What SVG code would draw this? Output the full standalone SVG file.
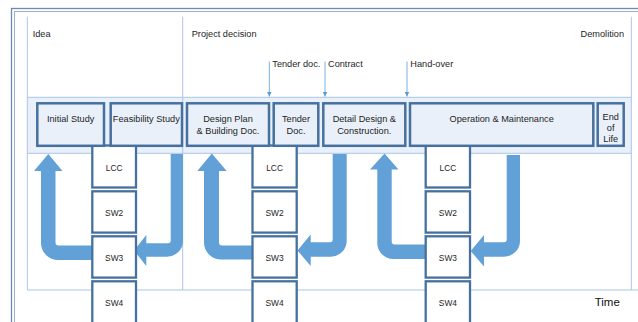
<svg xmlns="http://www.w3.org/2000/svg" width="638" height="322" viewBox="0 0 638 322">
<defs>
<style>
.t{font-family:"Liberation Sans",Arial,sans-serif;font-size:9.2px;fill:#1e1e1e}
.c{text-anchor:middle}
.s{font-family:"Liberation Sans",Arial,sans-serif;font-size:8.4px;fill:#1e1e1e;text-anchor:middle}
.ph{fill:#e9f0f9;stroke:#46719e;stroke-width:2.5}
.sw{fill:#fff;stroke:#46719e;stroke-width:2.3}
.grid{stroke:#a9c6e6;stroke-width:1;fill:none}
.blk{fill:#62a0d8}
.ev{stroke:#7fb0e0;stroke-width:1;fill:none}
</style>
<marker id="ah" viewBox="0 0 6 6" refX="6" refY="3" markerWidth="5" markerHeight="5" orient="auto" markerUnits="userSpaceOnUse">
<path d="M0,0 L6,3 L0,6 Z" fill="#5b9bd5"/>
</marker>
</defs>
<rect width="638" height="322" fill="#fff"/>
<!-- outer frame -->
<rect x="11.5" y="8.5" width="700" height="400" fill="none" stroke="#6a8cb2" stroke-width="1.3"/>
<rect x="14.5" y="11.5" width="700" height="400" fill="none" stroke="#9ab2ce" stroke-width="1"/>
<!-- band and grid -->
<rect x="27.3" y="97.3" width="604" height="56" fill="#e9f0f9"/>
<g class="grid">
<line x1="27.3" y1="16.7" x2="27.3" y2="290"/>
<line x1="182.7" y1="16.7" x2="182.7" y2="290"/>
<line x1="631.3" y1="16.7" x2="631.3" y2="290"/>
<line x1="27.3" y1="97.3" x2="631.3" y2="97.3"/>
<line x1="27.3" y1="153.3" x2="631.3" y2="153.3"/>
<line x1="27.3" y1="290" x2="638" y2="290"/>
</g>
<!-- milestone labels -->
<g id="milestones">
<text class="t" x="32.7" y="36.5">Idea</text>
<text class="t" x="191.7" y="36.5">Project decision</text>
<text class="t" x="624" y="36.5" text-anchor="end">Demolition</text>
<text class="t" x="272.3" y="67.3">Tender doc.</text>
<text class="t" x="328" y="67.3">Contract</text>
<text class="t" x="410.3" y="67.3">Hand-over</text>
</g>
<!-- connectors -->
<g id="connectors">
<line class="ev" x1="269.3" y1="61.5" x2="269.3" y2="96.5" marker-end="url(#ah)"/>
<line class="ev" x1="325" y1="61.5" x2="325" y2="96.5" marker-end="url(#ah)"/>
<line class="ev" x1="407" y1="61.5" x2="407" y2="96.5" marker-end="url(#ah)"/>
<path class="blk" d="M93 245.5 L58.5 245.5 Q55.5 245.5 55.5 242.5 L55.5 171 L62.5 171 L48.3 154 L34 171 L41 171 L41 243 A17 17 0 0 0 58 260 L93 260 Z"/>
<path class="blk" d="M170.7 154 L183 154 L183 240.7 A16 16 0 0 1 167 256.7 L146.3 256.7 L146.3 266 L134 250.5 L146.3 235 L146.3 243.3 L168 243.3 Q170.7 243.3 170.7 240.6 Z"/>
<path class="blk" d="M253 245.5 L222 245.5 Q219 245.5 219 242.5 L219 171 L226.7 171 L211.8 153.5 L197.3 171 L204 171 L204 242.5 A17 17 0 0 0 221 259.5 L253 259.5 Z"/>
<path class="blk" d="M332.7 154 L346.7 154 L346.7 240.7 A16 16 0 0 1 330.7 256.7 L310.7 256.7 L310.7 266 L297.5 250.5 L310.7 234.5 L310.7 242.3 L330 242.3 Q332.7 242.3 332.7 239.6 Z"/>
<path class="blk" d="M426 244.5 L394.7 244.5 Q391.7 244.5 391.7 241.5 L391.7 169.5 L398.5 169.5 L384.5 153.5 L370 169.5 L377.3 169.5 L377.3 243 A16 16 0 0 0 393.3 259 L426 259 Z"/>
<path class="blk" d="M506.7 155 L520 155 L520 240.7 A16 16 0 0 1 504 256.7 L484 256.7 L484 266.5 L470.7 251 L484 235 L484 242.3 L504 242.3 Q506.7 242.3 506.7 239.6 Z"/>
</g>
<!-- SW columns -->
<g id="col1">
<rect class="sw" x="92.3" y="145.5" width="43.7" height="42"/>
<text class="s" x="114.2" y="170.7">LCC</text>
<rect class="sw" x="92.3" y="191.3" width="43.7" height="41.3"/>
<text class="s" x="114.2" y="215.7">SW2</text>
<rect class="sw" x="92.3" y="236.3" width="43.7" height="41.3"/>
<text class="s" x="114.2" y="260.7">SW3</text>
<rect class="sw" x="92.3" y="281.3" width="43.7" height="50"/>
<text class="s" x="114.2" y="305.7">SW4</text>
</g>
<g id="col2">
<rect class="sw" x="252.5" y="145.5" width="44.2" height="42"/>
<text class="s" x="274.6" y="170.7">LCC</text>
<rect class="sw" x="252.5" y="191.3" width="44.2" height="41.3"/>
<text class="s" x="274.6" y="215.7">SW2</text>
<rect class="sw" x="252.5" y="236.3" width="44.2" height="41.3"/>
<text class="s" x="274.6" y="260.7">SW3</text>
<rect class="sw" x="252.5" y="281.3" width="44.2" height="50"/>
<text class="s" x="274.6" y="305.7">SW4</text>
</g>
<g id="col3">
<rect class="sw" x="425.7" y="145.5" width="44.3" height="42"/>
<text class="s" x="447.9" y="170.7">LCC</text>
<rect class="sw" x="425.7" y="191.3" width="44.3" height="41.3"/>
<text class="s" x="447.9" y="215.7">SW2</text>
<rect class="sw" x="425.7" y="236.3" width="44.3" height="41.3"/>
<text class="s" x="447.9" y="260.7">SW3</text>
<rect class="sw" x="425.7" y="281.3" width="44.3" height="50"/>
<text class="s" x="447.9" y="305.7">SW4</text>
</g>
<!-- phase boxes -->
<g id="initial-study">
<rect class="ph" x="37.3" y="103.3" width="66.7" height="42.5"/>
<text class="t c" x="70.7" y="122">Initial Study</text>
</g>
<g id="feasibility-study">
<rect class="ph" x="110.7" y="103.3" width="71.3" height="42.5"/>
<text class="t c" x="146.3" y="122">Feasibility Study</text>
</g>
<g id="design-plan">
<rect class="ph" x="187" y="103.3" width="82" height="42.5"/>
<text class="t c" x="228" y="122">Design Plan</text>
<text class="t c" x="228" y="133.8">&amp; Building Doc.</text>
</g>
<g id="tender-doc">
<rect class="ph" x="273.7" y="103.3" width="44.6" height="42.5"/>
<text class="t c" x="296" y="122">Tender</text>
<text class="t c" x="296" y="133.8">Doc.</text>
</g>
<g id="detail-design">
<rect class="ph" x="323.3" y="103.3" width="82" height="42.5"/>
<text class="t c" x="364.3" y="122">Detail Design &amp;</text>
<text class="t c" x="364.3" y="133.8">Construction.</text>
</g>
<g id="operation">
<rect class="ph" x="410" y="103.3" width="183.3" height="42.5"/>
<text class="t c" x="501.7" y="122">Operation &amp; Maintenance</text>
</g>
<g id="end-of-life">
<rect class="ph" x="597.7" y="103.3" width="26" height="42.5"/>
<text class="t c" x="610.7" y="119.5">End</text>
<text class="t c" x="610.7" y="130.8">of</text>
<text class="t c" x="610.7" y="142">Life</text>
</g>
<text x="594.7" y="306" font-family="Liberation Sans, Arial, sans-serif" font-size="11.5" fill="#111">Time</text>
</svg>
